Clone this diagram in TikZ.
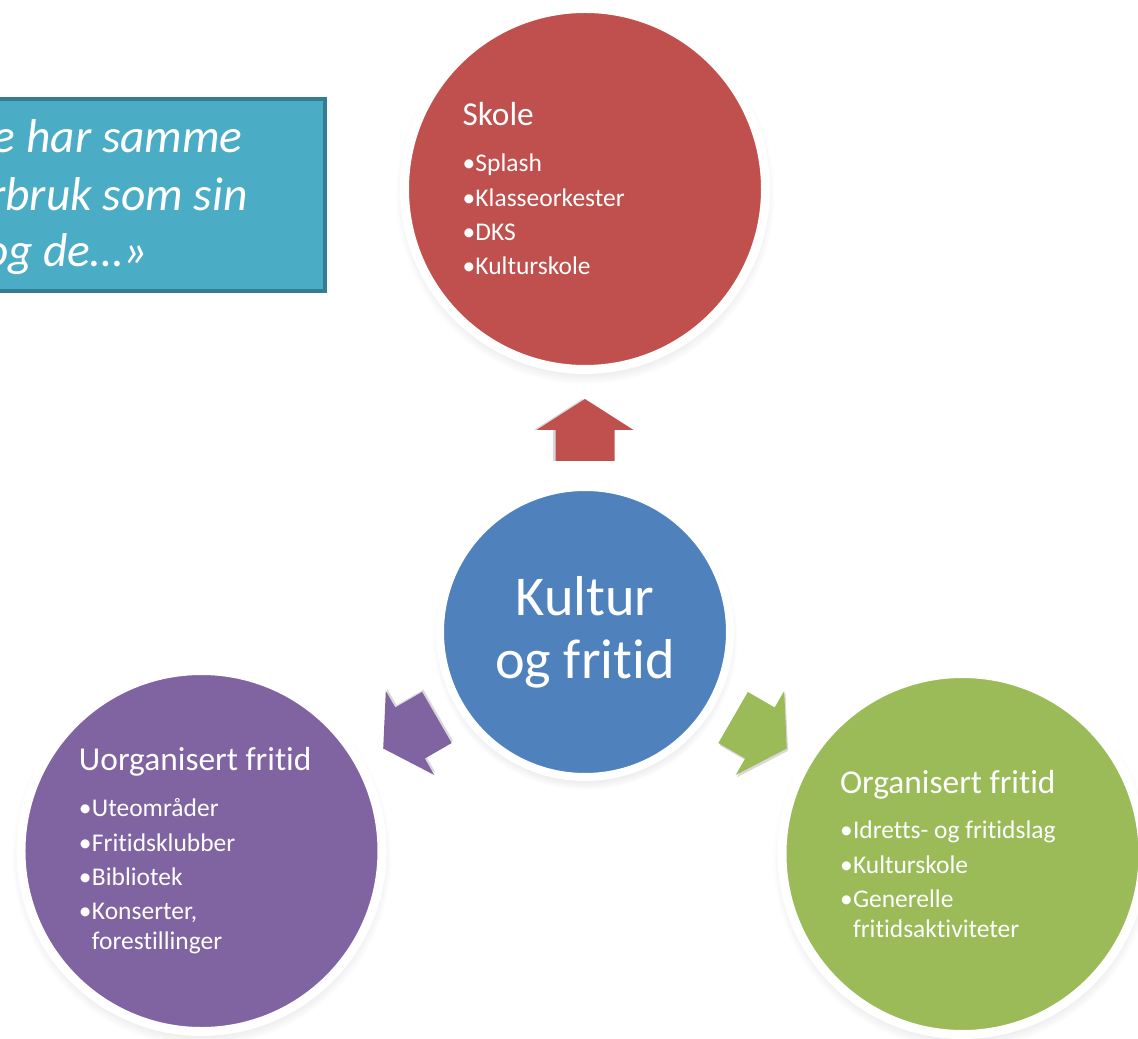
\documentclass[tikz,border=0pt]{standalone}
\usepackage{fontspec}
\setmainfont{Carlito}[Ligatures=NoCommon]
\usetikzlibrary{shadows,fadings}

\definecolor{skolered}{HTML}{C0504D}
\definecolor{kulturblue}{HTML}{4F81BD}
\definecolor{fritidpurple}{HTML}{8064A2}
\definecolor{fritidgreen}{HTML}{9BBB59}
\definecolor{quoteteal}{HTML}{4BACC6}
\definecolor{quoteedge}{HTML}{357D91}

\newlength{\bulw}\setlength{\bulw}{7.4pt}
\newcommand{\bubtitle}[1]{{\fontsize{19}{22}\selectfont #1\par}\vspace{6.4pt}}
\newcommand{\bulitem}[1]{\par\noindent\makebox[\bulw][l]{•}#1}
\newcommand{\bulcont}[1]{\par\vspace{-\parskip}\noindent\hspace*{\bulw}#1}

\tikzset{
  bubble/.style={circle, draw=white, line width=0.18cm, minimum size=7.22cm,
    text=white, text width=4.9cm, align=flush left, inner sep=0pt,
    font=\fontsize{14.5}{17}\selectfont\setlength{\parskip}{2.6pt}\setlength{\parindent}{0pt},
    circular drop shadow={shadow scale=1.05, shadow xshift=0pt, shadow yshift=-3pt, opacity=.35}},
  hub/.style={circle, draw=white, line width=0.16cm, minimum size=5.80cm,
    fill=kulturblue, text=white, align=center, inner sep=0pt,
    font=\fontsize{32}{36}\selectfont,
    circular drop shadow={shadow scale=1.05, shadow xshift=0pt, shadow yshift=-3pt, opacity=.35}},
  qline/.style={text=white, anchor=base east, inner sep=0pt,
    font=\fontsize{27}{32}\selectfont\itshape}
}

\begin{document}
\begin{tikzpicture}
\useasboundingbox (-11.70,-8.12) rectangle (11.06,12.64);
\clip (-11.70,-8.12) rectangle (11.06,12.64);

% quote box, cut by the left edge
\filldraw[fill=quoteteal, draw=quoteedge, line width=0.08cm,
  drop shadow={shadow xshift=1pt, shadow yshift=-1pt, opacity=.25}]
  (-12.10,6.82) rectangle (-5.20,10.66);
\node[qline] (q1) at (-6.84,9.58) {e har samme};
\node[qline] (q2) at (-6.74,8.42) {rbruk som sin};
\node[qline] (q3) at (-8.74,7.30) {og de…»};

% block arrows
\foreach \ang/\col [evaluate=\ang as \sx using {-1.5*sin(\ang)},
                    evaluate=\ang as \sy using {-1.5*cos(\ang)}]
    in {90/skolered, 210/fritidpurple, 330/fritidgreen}
  \fill[\col, rotate=\ang,
    drop shadow={shadow xshift=\sx pt, shadow yshift=\sy pt, opacity=.3}]
    (3.42,-0.59) -- (4.04,-0.59) -- (4.04,-0.97) -- (4.66,0)
    -- (4.04,0.97) -- (4.04,0.59) -- (3.42,0.59) -- cycle;

\node[hub] (kultur) at (0,0) {Kultur\\og fritid};

\node[bubble, fill=skolered] (skole) at (0,8.86) {\bubtitle{Skole}%
  \bulitem{Splash}\bulitem{Klasseorkester}\bulitem{DKS}\bulitem{Kulturskole}};

\node[bubble, fill=fritidpurple] (uorg) at (-7.67,-4.38) {\bubtitle{Uorganisert fritid}%
  \bulitem{Uteområder}\bulitem{Fritidsklubber}\bulitem{Bibliotek}%
  \bulitem{Konserter,}\bulcont{forestillinger}};

\node[bubble, fill=fritidgreen] (org) at (7.55,-4.44) {\bubtitle{Organisert fritid}%
  \bulitem{Idretts- og fritidslag}\bulitem{Kulturskole}%
  \bulitem{Generelle}\bulcont{fritidsaktiviteter}};
\end{tikzpicture}
\end{document}
